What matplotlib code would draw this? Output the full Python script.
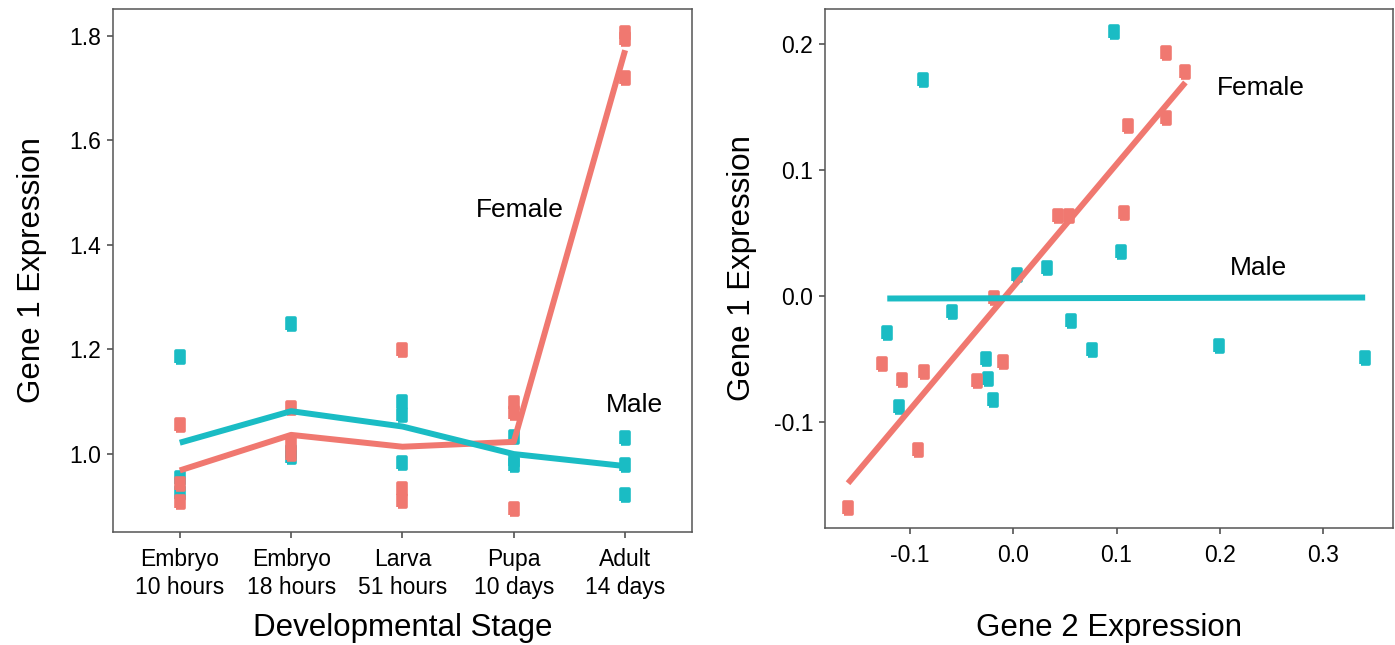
import matplotlib
matplotlib.use("Agg")
import matplotlib.pyplot as plt
from matplotlib.markers import MarkerStyle
import numpy as np

plt.rcParams['font.family'] = ['Liberation Sans', 'DejaVu Sans']

RED = '#F07870'
CYAN = '#1ABCC4'

# left panel: gene 1 expression by stage (3 replicates each)
stages = ['Embryo\n10 hours', 'Embryo\n18 hours', 'Larva\n51 hours', 'Pupa\n10 days', 'Adult\n14 days']
female_g1 = [
    [1.055, 0.943, 0.908],
    [1.088, 1.022, 1.000],
    [1.199, 0.933, 0.910],
    [1.097, 1.078, 0.895],
    [1.804, 1.794, 1.718],
]
male_g1 = [
    [1.185, 0.954, 0.926],
    [1.248, 1.003, 0.995],
    [1.100, 1.075, 0.983],
    [1.032, 0.988, 0.980],
    [1.030, 0.979, 0.922],
]

# right panel: gene 2 vs gene 1 (centred)
female_x = [0.1483, 0.1667, 0.1475, 0.1110, 0.0437, 0.0536, 0.1075, -0.0184,
            -0.1273, -0.1077, -0.0862, -0.0095, -0.0350, -0.0922, -0.1600]
female_y = [0.1930, 0.1780, 0.1413, 0.1347, 0.0636, 0.0636, 0.0658, -0.0019,
            -0.0540, -0.0668, -0.0605, -0.0525, -0.0674, -0.1220, -0.1679]
male_x = [-0.0875, 0.0976, 0.1040, 0.0330, 0.0036, -0.0591, -0.1220, 0.0564,
          0.0763, 0.1997, 0.3408, -0.0265, -0.0241, -0.0195, -0.1103]
male_y = [0.1713, 0.2098, 0.0347, 0.0220, 0.0167, -0.0130, -0.0292, -0.0199,
          -0.0430, -0.0393, -0.0488, -0.0499, -0.0658, -0.0822, -0.0883]

box = MarkerStyle([(-0.72, -1), (0.72, -1), (0.72, 1), (-0.72, 1), (-0.72, -1)],
                  joinstyle='round')
MS = 8
MEW = 2.6


def style_axes(ax):
    for s in ax.spines.values():
        s.set_color('#555555')
        s.set_linewidth(1.1)
    ax.tick_params(direction='out', length=4.5, width=1.1, color='#444444',
                   labelsize=16.5, labelcolor='black', pad=4)
    ax.tick_params(axis='x', pad=7)


fig = plt.figure(figsize=(13.95, 6.45), dpi=100)
ax1 = fig.add_axes([0.081, 0.1752, 0.415, 0.811])
ax2 = fig.add_axes([0.5914, 0.1814, 0.4072, 0.8047])

# left: points first (male under female), then mean lines
pos = np.arange(len(stages))
for vals, col in [(male_g1, CYAN), (female_g1, RED)]:
    for i, reps in enumerate(vals):
        ax1.plot([pos[i]] * len(reps), reps, linestyle='none', marker=box,
                 ms=MS, color=col, mec=col, mew=MEW)
for vals, col in [(female_g1, RED), (male_g1, CYAN)]:
    ax1.plot(pos, [np.mean(r) for r in vals], color=col, lw=4.3,
             solid_capstyle='butt')
ax1.text(3.05, 1.466, 'Female', fontsize=19, ha='center', va='center')
ax1.text(4.08, 1.094, 'Male', fontsize=19, ha='center', va='center')
ax1.set_xlim(-0.6, 4.6)
ax1.set_ylim(0.851, 1.851)
ax1.set_xticks(pos)
ax1.set_xticklabels(stages, linespacing=1.3)
ax1.set_yticks([1.0, 1.2, 1.4, 1.6, 1.8])
ax1.set_xlabel('Developmental Stage', fontsize=22.5, labelpad=10)
ax1.set_ylabel('Gene 1 Expression', fontsize=22.5, labelpad=16)
style_axes(ax1)

# right: scatter + linear fit per sex
for xs, ys, col in [(male_x, male_y, CYAN), (female_x, female_y, RED)]:
    ax2.plot(xs, ys, linestyle='none', marker=box, ms=MS, color=col,
             mec=col, mew=MEW)
for xs, ys, col in [(female_x, female_y, RED), (male_x, male_y, CYAN)]:
    xs = np.array(xs)
    ys = np.array(ys)
    k, b = np.polyfit(xs, ys, 1)
    xx = np.array([xs.min(), xs.max()])
    ax2.plot(xx, k * xx + b, color=col, lw=4.3, solid_capstyle='butt')
ax2.text(0.24, 0.165, 'Female', fontsize=19, ha='center', va='center')
ax2.text(0.237, 0.022, 'Male', fontsize=19, ha='center', va='center')
ax2.set_xlim(-0.1823, 0.3678)
ax2.set_ylim(-0.184, 0.2278)
ax2.set_xticks([-0.1, 0.0, 0.1, 0.2, 0.3])
ax2.set_xticklabels(['-0.1', '0.0', '0.1', '0.2', '0.3'])
ax2.set_yticks([-0.1, 0.0, 0.1, 0.2])
ax2.set_yticklabels(['-0.1', '0.0', '0.1', '0.2'])
ax2.set_xlabel('Gene 2 Expression', fontsize=22.5, labelpad=33)
ax2.set_ylabel('Gene 1 Expression', fontsize=22.5, labelpad=12)
style_axes(ax2)

fig.savefig('out.png', dpi=100)
